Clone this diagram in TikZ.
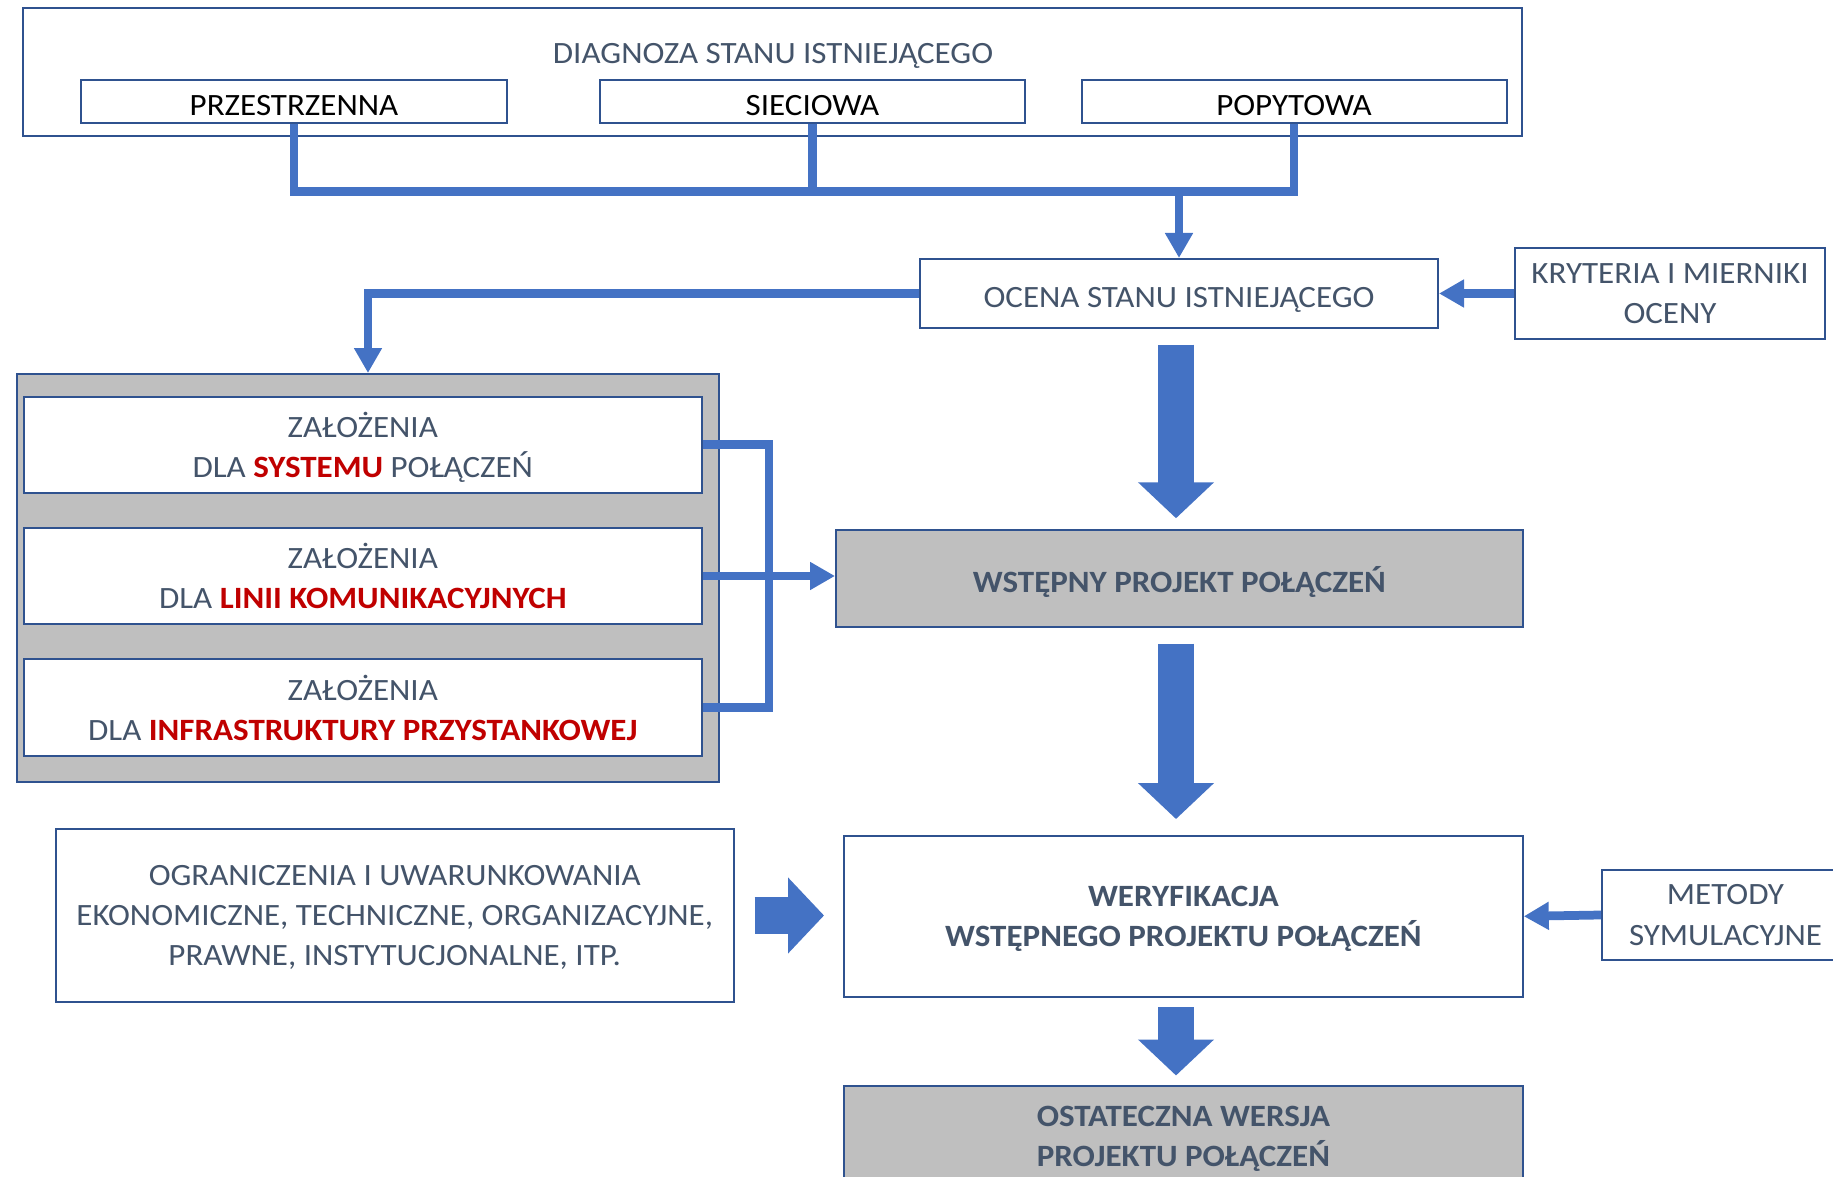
\documentclass[tikz,border=0pt]{standalone}
\usepackage{fontspec}
\setmainfont{Carlito}[FakeStretch=1.065]
\usetikzlibrary{arrows.meta,positioning,calc}
\definecolor{pjblue}{HTML}{4472C4}
\definecolor{pjedge}{HTML}{2F528F}
\definecolor{pjtext}{HTML}{44546A}
\definecolor{pjgrey}{HTML}{BFBFBF}
\definecolor{pjred}{HTML}{C00000}
\tikzset{
  box/.style     = {rectangle, draw=pjedge, line width=0.8pt, fill=white,
                    text=pjtext, align=center, inner sep=0pt, text depth=0pt,
                    font=\fontsize{12.4}{16.1}\selectfont,
                    execute at begin node={\rule{0pt}{11pt}}},
  subbox/.style  = {box, text=black, minimum width=170pt, minimum height=17.2pt},
  zalbox/.style  = {box, minimum width=271pt, minimum height=38.4pt},
  greybox/.style = {box, fill=pjgrey, font=\fontsize{12.4}{16.1}\selectfont\bfseries},
  ln/.style      = {draw=pjblue, line width=3.5pt},
  arr/.style     = {ln, -{Triangle[width=10.6pt,length=10pt]}},
  fat/.style     = {draw=pjblue, line width=14.6pt,
                    -{Triangle[width=29.6pt,length=14.4pt]}},
}
\newcommand{\hl}[1]{\textcolor{pjred}{\bfseries #1}}

\begin{document}
\begin{tikzpicture}[x=0.4pt,y=-0.4pt]
  \useasboundingbox (0,0) rectangle (1833,1177);
  % diagnoza
  \node[box, minimum width=599.4pt, minimum height=51pt] (diag) at (772.7,71.8) {};
  \node[text=pjtext, font=\fontsize{12.4}{16.1}\selectfont] (diagtitle) at (773,56)
    {DIAGNOZA STANU ISTNIEJĄCEGO};
  \node[subbox] (prz)  at (294,102)  {PRZESTRZENNA};
  \node[subbox] (siec) at (812.5,102) {SIECIOWA};
  \node[subbox] (pop)  at (1294,102) {POPYTOWA};
  \coordinate (bar) at (0,191.5);
  \draw[ln] (prz.south) -- (prz.south |- bar) -| (pop.south);
  \draw[ln] (siec.south) -- (siec.south |- bar);

  % ocena
  \node[box, minimum width=207.2pt, minimum height=27.6pt] (ocena) at (1179,293.5)
    {OCENA STANU ISTNIEJĄCEGO};
  \node[box, minimum width=124.2pt, minimum height=36.4pt] (kryt) at (1670,293.5)
    {KRYTERIA I MIERNIKI\\OCENY};
  \draw[arr] (ocena.north |- bar) -- (ocena.north);
  \draw[arr] (kryt.west) -- (ocena.east);

  % zalozenia
  \node[box, fill=pjgrey, minimum width=280.8pt, minimum height=163.1pt] (zalgrp)
    at (368,577.9) {};
  \node[zalbox] (zal1) at (362.8,444.7) {ZAŁOŻENIA\\DLA \hl{SYSTEMU} POŁĄCZEŃ};
  \node[zalbox] (zal2) at (362.8,576)   {ZAŁOŻENIA\\DLA \hl{LINII KOMUNIKACYJNYCH}};
  \node[zalbox] (zal3) at (362.8,707.5) {ZAŁOŻENIA\\DLA \hl{INFRASTRUKTURY PRZYSTANKOWEJ}};
  \draw[arr] (ocena.west) -| (zalgrp.north);

  % projekt
  \node[greybox, minimum width=274.7pt, minimum height=38.5pt] (wst) at (1179.4,578.4)
    {WSTĘPNY PROJEKT POŁĄCZEŃ};
  \coordinate (brk) at (769,0);
  \draw[ln] (zal1.east) -| (brk |- zal3.east) -- (zal3.east);
  \draw[arr] (zal2.east) -- (zal2.east -| wst.west);

  \node[box, font=\fontsize{12.4}{16.1}\selectfont\bfseries,
        minimum width=271.5pt, minimum height=64.2pt] (weryf) at (1183.4,916.3)
    {WERYFIKACJA\\WSTĘPNEGO PROJEKTU POŁĄCZEŃ};
  \node[greybox, minimum width=271.5pt, minimum height=40pt] (ost) at (1183.4,1136)
    {OSTATECZNA WERSJA\\PROJEKTU POŁĄCZEŃ};
  \node[box, minimum width=98.8pt, minimum height=36pt] (metody) at (1725.5,915)
    {METODY\\SYMULACYJNE};
  \node[box, minimum width=271.2pt, minimum height=69.2pt] (ogr) at (394.7,915.5)
    {OGRANICZENIA I UWARUNKOWANIA\\EKONOMICZNE, TECHNICZNE, ORGANIZACYJNE,\\PRAWNE, INSTYTUCJONALNE, ITP.};
  \draw[arr] (metody.west) -- (weryf.east);

  % block arrows
  \coordinate (axis) at (1176,0);
  \draw[fat, shorten <=6.3pt, shorten >=4.4pt] (axis |- ocena.south) -- (axis |- wst.north);
  \draw[fat, shorten <=6.4pt, shorten >=6.4pt] (axis |- wst.south) -- (axis |- weryf.north);
  \draw[fat, shorten <=3.8pt, shorten >=3.8pt] (axis |- weryf.south) -- (axis |- ost.north);
  \draw[fat, shorten <=8pt, shorten >=7.6pt] (ogr.east) -- (ogr.east -| weryf.west);
\end{tikzpicture}
\end{document}
